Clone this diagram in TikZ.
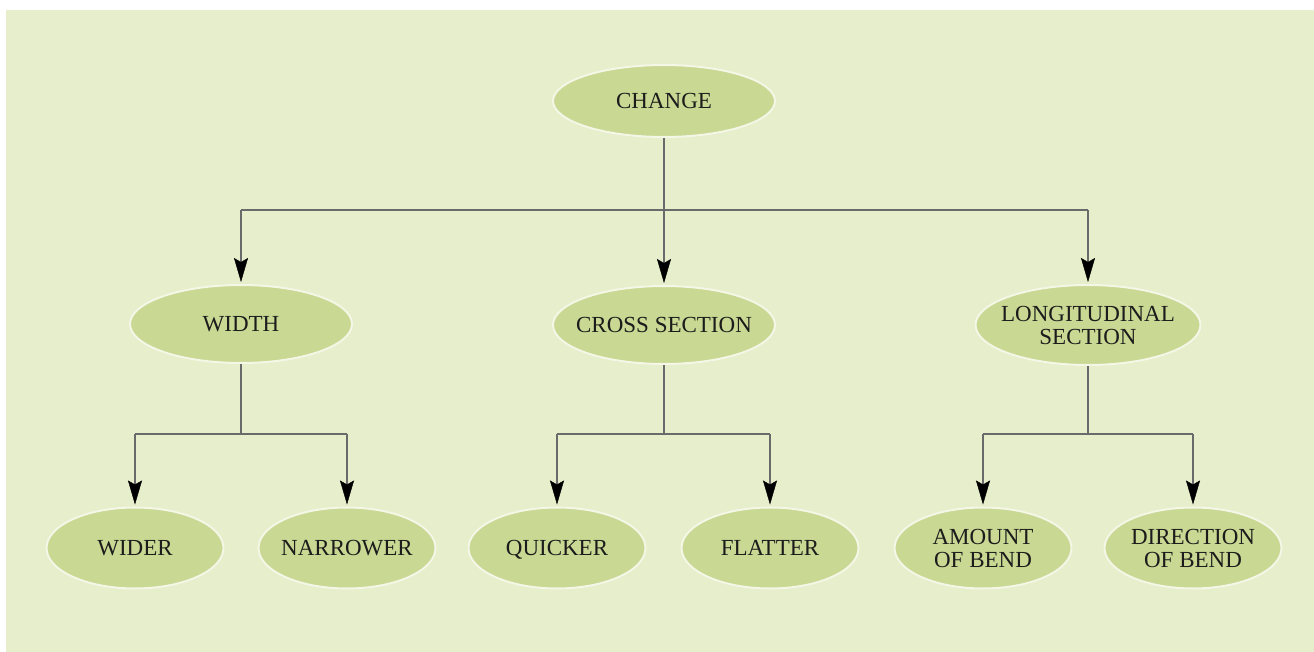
\documentclass[tikz,border=0pt]{standalone}
\usepackage{fontspec}
\setmainfont{Liberation Serif}
\usetikzlibrary{shapes.geometric,arrows.meta}
\definecolor{bgpanel}{HTML}{E7EECB}
\definecolor{ellfill}{HTML}{C9D893}
\definecolor{ellrim}{HTML}{F4F6E6}
\definecolor{linecol}{HTML}{6A6A6A}
\definecolor{txtcol}{HTML}{1C1C1C}
\tikzset{
  oval/.style={ellipse, fill=ellfill, draw=ellrim, line width=2pt,
    inner xsep=-40pt, inner ysep=0pt, text=txtcol, align=center,
    font=\fontsize{23}{23}\selectfont},
  oneline/.style={text height=15pt, text depth=0pt},
  bigoval/.style={oval, minimum width=222pt, minimum height=78pt},
  smalloval/.style={oval, minimum width=177pt, minimum height=81pt},
  conn/.style={draw=linecol, line width=1.3pt},
  arr/.style={conn, -{Stealth[length=24pt, width=14pt, inset=4pt, color=black, fill=black, line width=0.4pt]}, shorten >=2pt},
}
\begin{document}
\begin{tikzpicture}[x=1pt,y=-1pt]
\useasboundingbox (0,0) rectangle (1314,652);
\fill[white] (0,0) rectangle (1314,652);
\fill[bgpanel] (6,10) rectangle (1314,652);

\node[oval, oneline, minimum width=222pt, minimum height=72pt] (change) at (664,101) {CHANGE};

\node[bigoval, oneline] (width) at (241,324) {WIDTH};
\node[bigoval, oneline] (cross) at (664,325) {CROSS SECTION};
\node[oval, minimum width=225pt, minimum height=80pt] (long) at (1088,325) {LONGITUDINAL\\SECTION};

\node[smalloval, oneline] (wider) at (135,548) {WIDER};
\node[smalloval, oneline] (narrower) at (347,548) {NARROWER};
\node[smalloval, oneline] (quicker) at (557,548) {QUICKER};
\node[smalloval, oneline] (flatter) at (770,548) {FLATTER};
\node[smalloval] (amount) at (983,548) {AMOUNT\\OF BEND};
\node[smalloval] (direction) at (1193,548) {DIRECTION\\OF BEND};

% top level
\coordinate (c0) at (664,210);
\coordinate (cw) at (241,210);
\coordinate (cl) at (1088,210);
\draw[conn] (change.south) -- (c0);
\draw[conn] (cw) -- (cl);
\draw[arr] (cw) -- (width.north);
\draw[arr] (c0) -- (cross.north);
\draw[arr] (cl) -- (long.north);

% width branch
\coordinate (w0) at (241,434);
\coordinate (w1) at (135,434);
\coordinate (w2) at (347,434);
\draw[conn] (width.south) -- (w0);
\draw[conn] (w1) -- (w2);
\draw[arr] (w1) -- (wider.north);
\draw[arr] (w2) -- (narrower.north);

% cross branch
\coordinate (x0) at (664,434);
\coordinate (x1) at (557,434);
\coordinate (x2) at (770,434);
\draw[conn] (cross.south) -- (x0);
\draw[conn] (x1) -- (x2);
\draw[arr] (x1) -- (quicker.north);
\draw[arr] (x2) -- (flatter.north);

% longitudinal branch
\coordinate (l0) at (1088,434);
\coordinate (l1) at (983,434);
\coordinate (l2) at (1193,434);
\draw[conn] (long.south) -- (l0);
\draw[conn] (l1) -- (l2);
\draw[arr] (l1) -- (amount.north);
\draw[arr] (l2) -- (direction.north);
\end{tikzpicture}
\end{document}
